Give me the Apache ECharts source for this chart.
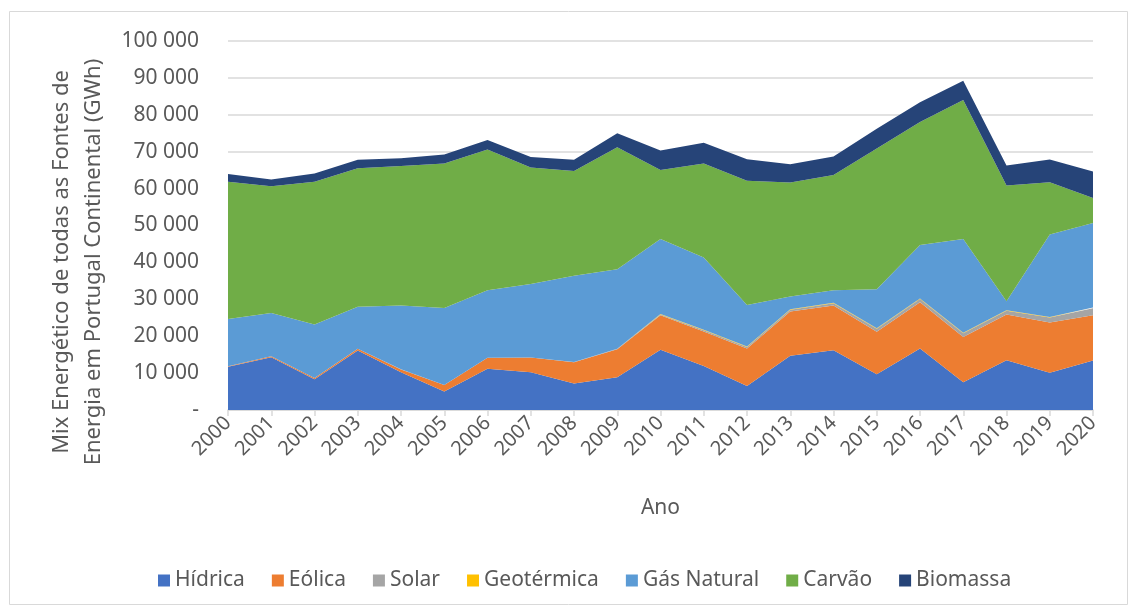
<!DOCTYPE html>
<html>
<head>
<meta charset="utf-8">
<title>Mix Energético</title>
<script src="https://cdn.jsdelivr.net/npm/echarts@6/dist/echarts.min.js"></script>
<style>
  html, body { margin: 0; padding: 0; background: #fff; }
  #chart { width: 1137px; height: 608px; }
</style>
</head>
<body>
<div id="chart"></div>
<script>
// dados (GWh)
var anos = ['2000','2001','2002','2003','2004','2005','2006','2007','2008','2009','2010',
            '2011','2012','2013','2014','2015','2016','2017','2018','2019','2020'];
var hidrica = [11700, 14300, 8300, 16100, 10200, 5000, 11200, 10200, 7200, 8900, 16300,
               11900, 6500, 14700, 16200, 9700, 16700, 7500, 13500, 10100, 13400];
var eolica = [170, 250, 350, 480, 800, 1750, 2950, 4000, 5750, 7550, 9400,
              9400, 10200, 12000, 12100, 11500, 12500, 12300, 12400, 13600, 12300];
var solar = [10, 10, 10, 10, 10, 20, 30, 40, 40, 160, 210,
             280, 390, 480, 630, 800, 870, 990, 1000, 1340, 1900];
var geotermica = [0, 0, 0, 0, 0, 0, 0, 0, 0, 0, 100,
                  150, 150, 150, 150, 150, 150, 150, 150, 150, 150];
var gasNatural = [12800, 11700, 14500, 11400, 17300, 20900, 18300, 19900, 23400, 21500, 20300,
                  19600, 11200, 3400, 3400, 10600, 14500, 25400, 2400, 22400, 22900];
var carvao = [37200, 34400, 38700, 37500, 37800, 39100, 38100, 31600, 28400, 33100, 18700,
              25500, 33700, 30900, 31200, 38100, 33300, 37700, 31400, 14100, 6800];
var biomassa = [2100, 1800, 2200, 2300, 2100, 2500, 2600, 2800, 3000, 3800, 5300,
                5600, 5800, 5000, 5000, 5400, 5400, 5200, 5400, 6200, 7200];

var nomes = ['Hídrica', 'Eólica', 'Solar', 'Geotérmica', 'Gás Natural', 'Carvão', 'Biomassa'];
var valores = [hidrica, eolica, solar, geotermica, gasNatural, carvao, biomassa];
var cores = ['#4472C4', '#ED7D31', '#A5A5A5', '#FFC000', '#5B9BD5', '#70AD47', '#264478'];

var fonte = '"Noto Sans", sans-serif';
var cinza = '#595959';

var series = [];
for (var i = 0; i < nomes.length; i++) {
  series.push({
    name: nomes[i],
    type: 'line',
    stack: 'total',
    data: valores[i],
    symbol: 'none',
    lineStyle: { width: 0 },
    areaStyle: { color: cores[i], opacity: 1 },
    itemStyle: { color: cores[i] }
  });
}

function formatarNumero(v) {
  if (v === 0) return '-';
  return String(v).replace(/\B(?=(\d{3})+(?!\d))/g, ' ');
}

var chart = echarts.init(document.getElementById('chart'), null, { renderer: 'canvas' });

var option = {
  animation: false,
  color: cores,
  textStyle: { fontFamily: fonte },
  grid: { left: 228, right: 44, top: 41, bottom: 198 },
  legend: {
    left: 153,
    top: 565,
    icon: 'rect',
    itemWidth: 12,
    itemHeight: 12,
    itemGap: 27,
    textStyle: { color: cinza, fontSize: 21, fontFamily: fonte }
  },
  xAxis: {
    type: 'category',
    data: anos,
    boundaryGap: false,
    name: 'Ano',
    nameLocation: 'middle',
    nameGap: 88,
    nameTextStyle: { color: cinza, fontSize: 21 },
    axisLine: { lineStyle: { color: '#d9d9d9', width: 1.5 } },
    axisTick: { show: true, length: 6, lineStyle: { color: '#d9d9d9', width: 1.5 } },
    axisLabel: { color: cinza, fontSize: 20, rotate: 45, margin: 10, interval: 0 }
  },
  yAxis: {
    type: 'value',
    min: 0,
    max: 100000,
    interval: 10000,
    axisLine: { show: false },
    axisTick: { show: false },
    splitLine: { lineStyle: { color: '#d9d9d9', width: 1.5 } },
    axisLabel: { color: cinza, fontSize: 21, margin: 29, formatter: formatarNumero }
  },
  graphic: [
    {
      type: 'rect',
      shape: { x: 9.5, y: 11.5, width: 1118, height: 593 },
      style: { fill: 'none', stroke: '#d9d9d9', lineWidth: 1 },
      silent: true
    },
    {
      type: 'text',
      x: 78,
      y: 262,
      rotation: Math.PI / 2,
      style: {
        text: 'Mix Energético de todas as Fontes de\nEnergia em Portugal Continental (GWh)',
        fill: cinza,
        font: '22px "Noto Sans", sans-serif',
        align: 'center',
        verticalAlign: 'middle',
        lineHeight: 32
      }
    }
  ],
  series: series
};

chart.setOption(option);
</script>
</body>
</html>
